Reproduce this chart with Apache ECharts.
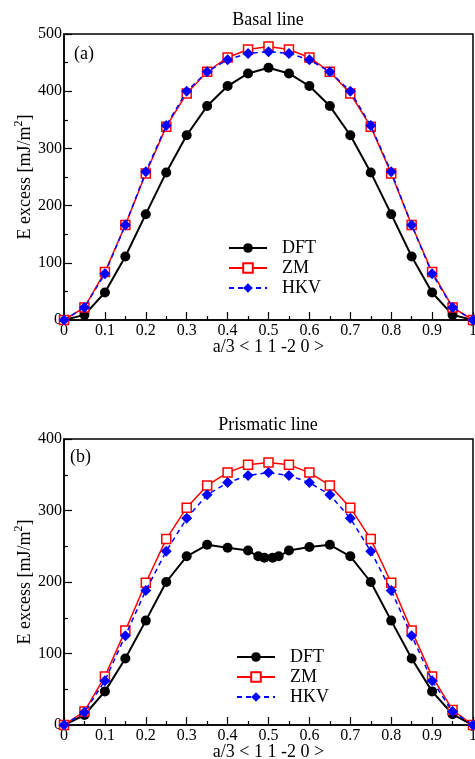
<!DOCTYPE html>
<html>
<head>
<meta charset="utf-8">
<script src="https://cdn.jsdelivr.net/npm/echarts@6/dist/echarts.min.js"></script>
<style>html,body{margin:0;padding:0;background:#fff}#c{width:475px;height:759px}</style>
</head>
<body>
<div id="c"></div>
<script>
// Panel (a): Basal line
const xA = [0,0.05,0.1,0.15,0.2,0.25,0.3,0.35,0.4,0.45,0.5,0.55,0.6,0.65,0.7,0.75,0.8,0.85,0.9,0.95,1];
const dftA = [0,9,48,111,185,258,323,374,409,431,441,431,409,374,323,258,185,111,48,9,0];
const zmA  = [0,22,84,166,256,338,396,434,459,473,478,473,459,434,396,338,256,166,84,22,0];
const hkvA = [0,22,81,166,259,340,400,434,455,466,469,466,455,434,400,340,259,166,81,22,0];
// Panel (b): Prismatic line
const xB = [0,0.05,0.1,0.15,0.2,0.25,0.3,0.35,0.4,0.45,0.5,0.55,0.6,0.65,0.7,0.75,0.8,0.85,0.9,0.95,1];
const xDftB = [0,0.05,0.1,0.15,0.2,0.25,0.3,0.35,0.4,0.45,0.475,0.49,0.51,0.525,0.55,0.6,0.65,0.7,0.75,0.8,0.85,0.9,0.95,1];
const dftB = [0,14,47,93,146,200,236,252,248,244,236,234,234,236,244,249,252,236,200,146,93,47,15,0];
const zmB  = [0,19,68,132,199,260,304,335,353,364,367,364,353,335,304,260,199,132,68,21,0];
const hkvB = [0,18,62,125,188,243,289,322,339,349,353,349,339,322,289,243,188,125,62,19,0];
const seriesNames = ['DFT','ZM','HKV'];
const titles = ['Basal line','Prismatic line'];
const panelTags = ['(a)','(b)'];
const xName = 'a/3 < 1 1 -2 0 >';

const FONT = 'Liberation Serif, Times New Roman, serif';
const pair = (xs, ys) => xs.map((x, i) => [x, ys[i]]);

function mkX(gi) {
  return {
    type: 'value', gridIndex: gi, min: 0, max: 1, interval: 0.1,
    name: xName, nameLocation: 'middle', nameGap: 18, nameMoveOverlap: false,
    nameTextStyle: {fontFamily: FONT, fontSize: 18, color: '#000'},
    axisLine: {show: true, lineStyle: {color: '#000', width: 1.5}},
    axisTick: {show: true, inside: true, length: 8, lineStyle: {color: '#000', width: 1.2}},
    minorTick: {show: true, splitNumber: 2, length: 4, lineStyle: {color: '#000', width: 1.2}},
    axisLabel: {fontFamily: FONT, fontSize: 16, color: '#000', margin: 3,
      formatter: v => String(Math.round(v * 10) / 10)},
    splitLine: {show: false}
  };
}
function mkY(gi, max) {
  return {
    type: 'value', gridIndex: gi, min: 0, max: max, interval: 100,
    name: '{n|E excess [mJ/m}{s|2}{n|]}', nameLocation: 'middle', nameGap: 27, nameRotate: 90,
    nameMoveOverlap: false,
    nameTextStyle: {color: '#000', rich: {
      n: {fontFamily: FONT, fontSize: 18, color: '#000'},
      s: {fontFamily: FONT, fontSize: 12, color: '#000', padding: [0, 0, 12, 0]}
    }},
    axisLine: {show: true, lineStyle: {color: '#000', width: 1.5}},
    axisTick: {show: true, inside: true, length: 8, lineStyle: {color: '#000', width: 1.2}},
    minorTick: {show: true, splitNumber: 2, length: 4, lineStyle: {color: '#000', width: 1.2}},
    axisLabel: {fontFamily: FONT, fontSize: 16, color: '#000', margin: 2},
    splitLine: {show: false}
  };
}
function mkSeries(gi, xd, yd, xs, ys, xh, yh) {
  return [
    {name: seriesNames[0], type: 'line', xAxisIndex: gi, yAxisIndex: gi, data: pair(xd, yd),
     symbol: 'circle', symbolSize: 10, clip: false, z: 2,
     lineStyle: {color: '#000', width: 2}, itemStyle: {color: '#000'}},
    {name: seriesNames[1], type: 'line', xAxisIndex: gi, yAxisIndex: gi, data: pair(xs, ys),
     symbol: 'rect', symbolSize: 9, clip: false, z: 3,
     lineStyle: {color: '#ff0000', width: 1.5},
     itemStyle: {color: '#fff', borderColor: '#ff0000', borderWidth: 1.5}},
    {name: seriesNames[2], type: 'line', xAxisIndex: gi, yAxisIndex: gi, data: pair(xh, yh),
     symbol: 'diamond', symbolSize: 11, clip: false, z: 4,
     lineStyle: {color: '#0000ff', width: 1.5, type: [5, 4]}, itemStyle: {color: '#0000ff'}}
  ];
}
function mkLegend(left, top) {
  return {orient: 'vertical', left: left, top: top, padding: 0,
    itemWidth: 38, itemHeight: 12, itemGap: 2,
    data: seriesNames, selectedMode: false,
    textStyle: {fontFamily: FONT, fontSize: 18, lineHeight: 18, color: '#000', padding: [0, 0, 0, 10]}};
}

const chart = echarts.init(document.getElementById('c'), null, {renderer: 'canvas'});
chart.setOption({
  animation: false,
  backgroundColor: '#fff',
  grid: [
    {left: 64, top: 34, right: 2, height: 286, show: true, borderColor: '#000', borderWidth: 1.5,
     containLabel: false, outerBoundsMode: 'none'},
    {left: 64, top: 439, right: 2, height: 286, show: true, borderColor: '#000', borderWidth: 1.5,
     containLabel: false, outerBoundsMode: 'none'}
  ],
  xAxis: [mkX(0), mkX(1)],
  yAxis: [mkY(0, 500), mkY(1, 400)],
  legend: [mkLegend(228, 239), mkLegend(236, 648)],
  graphic: [
    {type: 'text', x: 268, y: 20, style: {text: titles[0], fontFamily: FONT, fontSize: 18, fill: '#000', align: 'center', verticalAlign: 'middle'}},
    {type: 'text', x: 268, y: 425, style: {text: titles[1], fontFamily: FONT, fontSize: 18, fill: '#000', align: 'center', verticalAlign: 'middle'}},
    {type: 'text', x: 74, y: 54, style: {text: panelTags[0], fontFamily: FONT, fontSize: 18, fill: '#000', align: 'left', verticalAlign: 'middle'}},
    {type: 'text', x: 70, y: 457, style: {text: panelTags[1], fontFamily: FONT, fontSize: 18, fill: '#000', align: 'left', verticalAlign: 'middle'}}
  ],
  series: [].concat(
    mkSeries(0, xA, dftA, xA, zmA, xA, hkvA),
    mkSeries(1, xDftB, dftB, xB, zmB, xB, hkvB)
  )
});
</script>
</body>
</html>
